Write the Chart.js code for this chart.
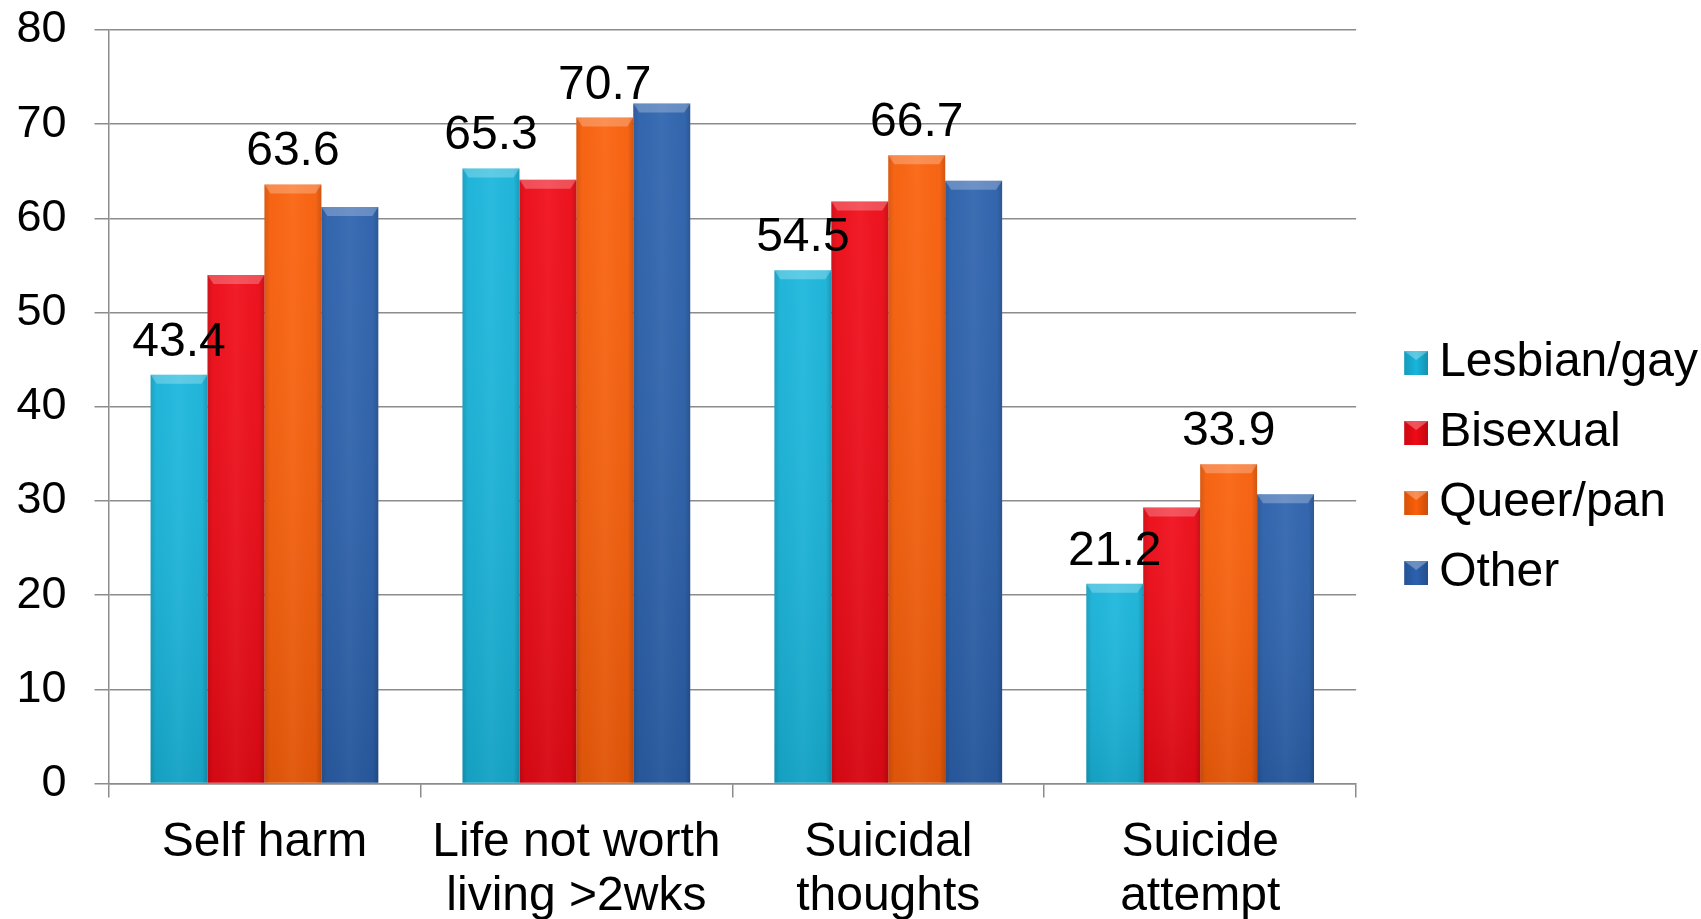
<!DOCTYPE html>
<html>
<head>
<meta charset="utf-8">
<script src="https://cdn.jsdelivr.net/npm/chart.js@4.4.0/dist/chart.umd.min.js"></script>
<style>
  html, body { margin: 0; padding: 0; background: #fff; overflow: hidden; }
  #wrap { width: 1701px; height: 942px; position: relative; }
</style>
</head>
<body>
<div id="wrap"><canvas id="barChart"></canvas></div>
<script>
const categories = ["Self harm", ["Life not worth", "living >2wks"], ["Suicidal", "thoughts"], ["Suicide", "attempt"]];
const seriesNames = ["Lesbian/gay", "Bisexual", "Queer/pan", "Other"];
const lesbianGay = [43.4, 65.3, 54.5, 21.2];
const bisexual = [54.0, 64.1, 61.8, 29.3];
const queerPan = [63.6, 70.7, 66.7, 33.9];
const other = [61.2, 72.2, 64.0, 30.7];
const yTicks = [0, 10, 20, 30, 40, 50, 60, 70, 80];
// only these series carry value labels in the original
const labelledSeries = [0, 2];

const colors = ["#18b6dc", "#f00a16", "#fb600a", "#2c62ae"];
const FONT = "'Liberation Sans', Arial, sans-serif";

// legend swatch: square sits at the right of a wider image so it hugs the text
const makeSwatch = (color) => {
  const c = document.createElement("canvas");
  c.width = 50;
  c.height = 24;
  const g = c.getContext("2d");
  const x0 = 26;
  g.fillStyle = color;
  g.fillRect(x0, 0, 24, 24);
  const sh = g.createLinearGradient(x0, 0, x0 + 24, 0);
  sh.addColorStop(0, "rgba(0,0,0,0.15)");
  sh.addColorStop(0.5, "rgba(0,0,0,0)");
  sh.addColorStop(1, "rgba(0,0,0,0.2)");
  g.fillStyle = sh;
  g.fillRect(x0, 0, 24, 24);
  g.beginPath();
  g.moveTo(x0, 0);
  g.lineTo(x0 + 24, 0);
  g.lineTo(x0 + 12, 9);
  g.closePath();
  g.fillStyle = "rgba(255,255,255,0.3)";
  g.fill();
  return c;
};
const swatches = colors.map(makeSwatch);

// fake the office-style bevel on each bar
const bevel = {
  id: "bevel",
  afterDatasetDraw(chart, args) {
    const ctx = chart.ctx;
    args.meta.data.forEach((bar) => {
      const left = bar.x - bar.width / 2;
      const w = bar.width;
      const top = bar.y;
      const h = bar.base - bar.y;
      ctx.save();
      let g = ctx.createLinearGradient(left, 0, left + w, 0);
      g.addColorStop(0, "rgba(0,0,0,0.14)");
      g.addColorStop(0.1, "rgba(0,0,0,0.02)");
      g.addColorStop(0.5, "rgba(255,255,255,0.04)");
      g.addColorStop(0.9, "rgba(0,0,0,0.02)");
      g.addColorStop(1, "rgba(0,0,0,0.18)");
      ctx.fillStyle = g;
      ctx.fillRect(left, top, w, h);
      g = ctx.createLinearGradient(0, top, 0, top + h);
      g.addColorStop(0, "rgba(255,255,255,0.04)");
      g.addColorStop(1, "rgba(0,0,0,0.1)");
      ctx.fillStyle = g;
      ctx.fillRect(left, top, w, h);
      ctx.beginPath();
      ctx.moveTo(left, top);
      ctx.lineTo(left + w, top);
      ctx.lineTo(left + w - 6, top + 9);
      ctx.lineTo(left + 6, top + 9);
      ctx.closePath();
      ctx.fillStyle = "rgba(255,255,255,0.25)";
      ctx.fill();
      ctx.restore();
    });
  },
};

const valueLabels = {
  id: "valueLabels",
  afterDatasetsDraw(chart) {
    const ctx = chart.ctx;
    ctx.save();
    ctx.font = "48px " + FONT;
    ctx.fillStyle = "#000";
    ctx.textAlign = "center";
    ctx.textBaseline = "alphabetic";
    labelledSeries.forEach((i) => {
      const meta = chart.getDatasetMeta(i);
      meta.data.forEach((bar, j) => {
        ctx.fillText(chart.data.datasets[i].data[j].toFixed(1), bar.x, bar.y - 19);
      });
    });
    ctx.restore();
  },
};

// nudge the legend a bit to the right / up like the original
const legendNudge = {
  id: "legendNudge",
  afterLayout(chart) {
    const lg = chart.legend;
    lg.left += 13;
    lg.right += 13;
    lg.top -= 18;
    lg.bottom -= 18;
  },
};

const ctx = document.getElementById("barChart").getContext("2d");
new Chart(ctx, {
  type: "bar",
  data: {
    labels: categories,
    datasets: [lesbianGay, bisexual, queerPan, other].map((vals, i) => ({
      label: seriesNames[i],
      data: vals,
      backgroundColor: colors[i],
      borderWidth: 0,
      categoryPercentage: 0.73,
      barPercentage: 1.0,
    })),
  },
  options: {
    responsive: true,
    maintainAspectRatio: false,
    animation: false,
    layout: { padding: { top: 30, right: 6, left: 14, bottom: 0 } },
    plugins: {
      tooltip: { enabled: false },
      legend: {
        position: "right",
        labels: {
          color: "#000",
          font: { size: 48, family: FONT },
          boxWidth: 24,
          boxHeight: 24,
          padding: 22,
          usePointStyle: true,
          generateLabels: (chart) =>
            Chart.defaults.plugins.legend.labels.generateLabels(chart).map((item, i) => ({
              ...item,
              pointStyle: swatches[i],
            })),
        },
      },
    },
    scales: {
      x: {
        grid: {
          drawOnChartArea: false,
          drawTicks: true,
          tickLength: 14,
          color: "#8c8c8c",
          lineWidth: 1.5,
        },
        border: { color: "#8c8c8c", width: 1.5 },
        ticks: {
          color: "#000",
          font: { size: 48, family: FONT, lineHeight: 1.13 },
          padding: 18,
          maxRotation: 0,
          autoSkip: false,
        },
      },
      y: {
        min: 0,
        max: 80,
        afterBuildTicks: (axis) => {
          axis.ticks = yTicks.map((v) => ({ value: v }));
        },
        afterFit: (axis) => {
          axis.width = 94.5;
          axis.paddingTop = 0;
          axis.paddingBottom = 0;
        },
        grid: {
          color: "#8c8c8c",
          lineWidth: 1.5,
          tickLength: 14,
        },
        border: { color: "#8c8c8c", width: 1.5 },
        ticks: {
          color: "#000",
          font: { size: 45, family: FONT },
          padding: 28,
        },
      },
    },
  },
  plugins: [bevel, valueLabels, legendNudge],
});
</script>
</body>
</html>
